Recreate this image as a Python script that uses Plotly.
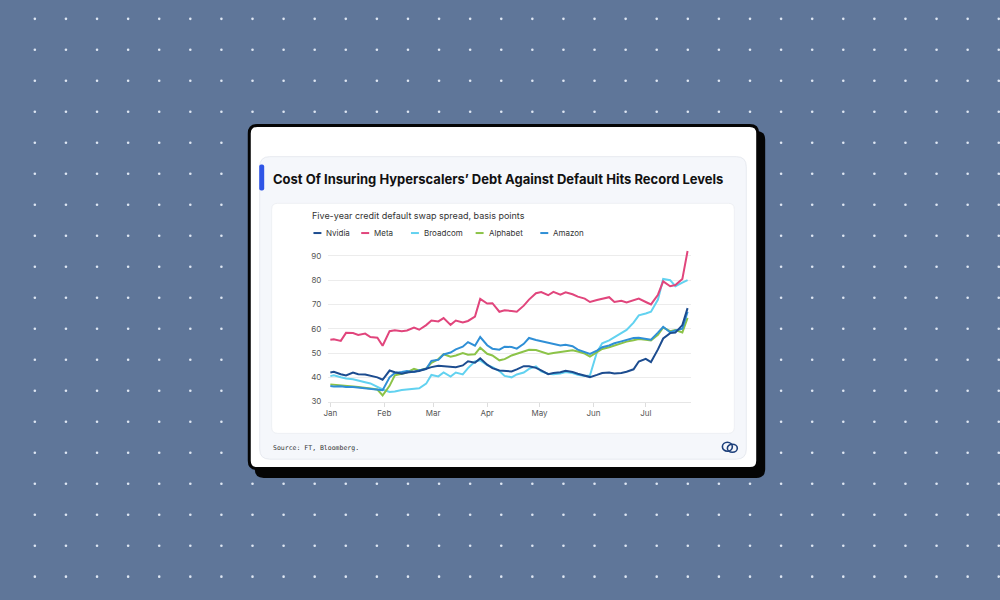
import plotly.graph_objects as go
import pandas as pd

W, H = 1000, 600

# ---------------- data ----------------
day_offsets = [0, 2, 6, 9, 13, 16, 20, 23, 27, 30, 34, 37, 41, 44, 48, 51, 55, 58, 62, 65,
               69, 72, 76, 79, 83, 86, 90, 93, 97, 100, 104, 107, 111, 114, 118, 121, 125, 128,
               132, 135, 139, 142, 146, 149, 153, 156, 160, 163, 167, 170, 174, 177, 181, 184,
               188, 191, 195, 198, 202, 205]
dates = [pd.Timestamp("2025-01-01") + pd.Timedelta(days=d) for d in day_offsets]

nvidia = [42, 42.3, 41.3, 40.8, 42, 41.3, 41.2, 40.6, 40, 39, 42.8, 42.1, 41.5, 42, 42.3, 42.6,
          43.5, 44.2, 44.8, 44.6, 44.4, 44.2, 44.9, 46.6, 46, 47.8, 45.2, 43.8, 42.8, 42.5, 42.4,
          43.3, 44.6, 44.6, 43.9, 42.9, 41.3, 41.8, 42.1, 42.7, 42.2, 41.5, 40.6, 40.1, 41, 41.8,
          42, 41.6, 41.8, 42.3, 43.3, 46.5, 47.6, 46.3, 51.5, 56, 58.2, 58.4, 61.5, 68.5]
meta = [55.5, 55.7, 55, 58.3, 58.2, 57.4, 58, 56.6, 56.3, 53, 59, 59.4, 59, 59.3, 60.5, 59.6,
        61.5, 63.4, 63, 64.4, 61.6, 63.4, 62.6, 63.2, 65, 72.3, 70.4, 70.5, 67, 67.6, 67.3, 67,
        69.5, 72, 74.6, 75.1, 73.8, 75.2, 74, 75, 74.2, 73.2, 72.4, 71, 71.8, 72.2, 73, 71, 71.5,
        70.8, 71.8, 72.4, 71, 70, 74, 79.5, 77.5, 78, 80.5, 92]
broadcom = [40.5, 40.8, 40, 39.5, 39.2, 38.8, 38, 37.5, 36, 35, 34, 34.2, 34.8, 35, 35.2, 35.5,
            37.4, 41, 40.4, 42, 40.3, 42, 41.2, 43.8, 46.5, 47, 45, 44.2, 42.6, 40.6, 40, 41.2,
            42, 43.5, 44.5, 42.5, 41.5, 41.3, 41.6, 42.2, 41.8, 41, 40.6, 40.8, 50.4, 54, 55.2,
            56.5, 57.9, 59.5, 62.5, 65.5, 66.3, 67, 72, 80.5, 80, 77.5, 79, 80]
alphabet = [37.1, 37, 36.8, 36.7, 36.2, 36, 35.5, 35.4, 35, 32.6, 36.5, 40.8, 41.5, 42, 43.5,
            42.8, 43.6, 46, 47.5, 49.5, 48.5, 49, 50, 49.3, 49.5, 52.2, 49.7, 49, 47, 47.5, 49,
            49.7, 50.5, 51.3, 51.2, 50.5, 49.6, 50, 50.4, 50.8, 51.1, 50.6, 49.8, 48.5, 50.4,
            51.7, 52.4, 53.1, 54, 54.7, 55.3, 55.8, 55.5, 55.2, 57.5, 60.5, 59, 59.5, 58.5, 64.5]
amazon = [36.4, 36.2, 36.3, 36, 36, 35.8, 35.5, 35.2, 34.9, 34.7, 40, 41.8, 42.2, 42.6, 42.2,
          42.9, 43.4, 46.8, 47.2, 49.4, 50.2, 51.5, 52.6, 54.5, 53, 56.6, 53.2, 51.8, 51.4, 52.6,
          52.5, 51.8, 53.8, 56.2, 55.4, 54.9, 54.1, 53.6, 53.1, 53.4, 52.8, 51.4, 50.3, 49.6, 51,
          52.4, 53.1, 54, 54.8, 55.5, 56.2, 56.3, 55.7, 55.5, 58.4, 60.8, 58.5, 59.3, 60, 67]

series_names = ["Nvidia", "Meta", "Broadcom", "Alphabet", "Amazon"]
series_values = {"Nvidia": nvidia, "Meta": meta, "Broadcom": broadcom,
                 "Alphabet": alphabet, "Amazon": amazon}
series_colors = {"Nvidia": "#1c4c8f", "Meta": "#e1457c", "Broadcom": "#62d2f0",
                 "Alphabet": "#8cc348", "Amazon": "#2f8fd6"}
draw_order = ["Broadcom", "Alphabet", "Amazon", "Nvidia", "Meta"]

y_ticks = [30, 40, 50, 60, 70, 80, 90]
month_ticks = ["2025-01-01", "2025-02-01", "2025-03-01", "2025-04-01",
               "2025-05-01", "2025-06-01", "2025-07-01"]
month_labels = ["Jan", "Feb", "Mar", "Apr", "May", "Jun", "Jul"]

title_text = "Cost Of Insuring Hyperscalers\u2019 Debt Against Default Hits Record Levels"
subtitle_text = "Five-year credit default swap spread, basis points"
source_text = "Source: FT, Bloomberg."

# ---------------- helpers ----------------
def PX(x):
    return x / W


def PY(y):
    return 1 - y / H


def rr_path(x0, y0, x1, y1, r):
    pts = [
        ("M", [(x0 + r, y0)]), ("L", [(x1 - r, y0)]), ("Q", [(x1, y0), (x1, y0 + r)]),
        ("L", [(x1, y1 - r)]), ("Q", [(x1, y1), (x1 - r, y1)]), ("L", [(x0 + r, y1)]),
        ("Q", [(x0, y1), (x0, y1 - r)]), ("L", [(x0, y0 + r)]), ("Q", [(x0, y0), (x0 + r, y0)]),
    ]
    s = ""
    for cmd, ps in pts:
        s += cmd + " ".join(f"{PX(a):.5f},{PY(b):.5f}" for a, b in ps) + " "
    return s + "Z"


shapes = []
# background dots
for i in range(32):
    for j in range(19):
        cx = 30 + 31.25 * i
        cy = 19 + 31.25 * j
        shapes.append(dict(type="circle", xref="paper", yref="paper",
                           x0=PX(cx - 1.3), x1=PX(cx + 1.3), y0=PY(cy + 1.3), y1=PY(cy - 1.3),
                           fillcolor="#dfe7f3", line=dict(width=0), layer="below"))
# card shadow
shapes.append(dict(type="path", xref="paper", yref="paper", path=rr_path(251, 132, 764, 482, 9),
                   fillcolor="#050505", line=dict(width=0), layer="below"))
# card
shapes.append(dict(type="path", xref="paper", yref="paper", path=rr_path(245.5, 126.5, 756.5, 472.5, 8),
                   fillcolor="#ffffff", line=dict(color="#050505", width=3), layer="below"))
# inner panel
shapes.append(dict(type="path", xref="paper", yref="paper", path=rr_path(256, 158, 745, 463, 10),
                   fillcolor="#f5f7fb", line=dict(color="#e7eaf0", width=1), layer="below"))
# accent bar
shapes.append(dict(type="path", xref="paper", yref="paper", path=rr_path(255.5, 166, 260.5, 192, 2),
                   fillcolor="#2f55e6", line=dict(width=0), layer="below"))
# chart area
shapes.append(dict(type="path", xref="paper", yref="paper", path=rr_path(268, 205, 733, 437, 6),
                   fillcolor="#ffffff", line=dict(color="#eef0f4", width=1), layer="below"))
# logo (small glyph)
shapes.append(dict(type="circle", xref="paper", yref="paper",
                   x0=PX(721), x1=PX(731), y0=PY(455), y1=PY(446),
                   fillcolor="rgba(0,0,0,0)", line=dict(color="#1c3f7a", width=1.6), layer="above"))
shapes.append(dict(type="circle", xref="paper", yref="paper",
                   x0=PX(726), x1=PX(736), y0=PY(456), y1=PY(448),
                   fillcolor="rgba(0,0,0,0)", line=dict(color="#1c3f7a", width=1.6), layer="above"))

# legend (manual)
legend_x = {"Nvidia": 310, "Meta": 358, "Broadcom": 408, "Alphabet": 473, "Amazon": 538}
annotations = []
for name in series_names:
    lx = legend_x[name]
    shapes.append(dict(type="line", xref="paper", yref="paper",
                       x0=PX(lx), x1=PX(lx + 8), y0=PY(235), y1=PY(235),
                       line=dict(color=series_colors[name], width=2), layer="above"))
    annotations.append(dict(x=PX(lx + 11), y=PY(235), xref="paper", yref="paper",
                            text=name, showarrow=False, xanchor="left", yanchor="middle",
                            font=dict(family="Inter, Lato, sans-serif", size=8, color="#333333")))

annotations.append(dict(x=PX(267), y=PY(181), xref="paper", yref="paper", text=f"<b>{title_text}</b>",
                        showarrow=False, xanchor="left", yanchor="middle",
                        font=dict(family="Inter, Roboto, sans-serif", size=13, color="#111111")))
annotations.append(dict(x=PX(307), y=PY(217), xref="paper", yref="paper", text=subtitle_text,
                        showarrow=False, xanchor="left", yanchor="middle",
                        font=dict(family="Inter, Lato, sans-serif", size=9, color="#333333")))
annotations.append(dict(x=PX(267), y=PY(452), xref="paper", yref="paper", text=source_text,
                        showarrow=False, xanchor="left", yanchor="middle",
                        font=dict(family="DejaVu Sans Mono, monospace", size=6.5, color="#333333")))

fig = go.Figure()
for name in draw_order:
    fig.add_trace(go.Scatter(x=dates, y=series_values[name], mode="lines", name=name,
                             line=dict(color=series_colors[name], width=2),
                             showlegend=False, hoverinfo="skip"))

fig.update_layout(
    width=W, height=H,
    margin=dict(l=0, r=0, t=0, b=0),
    paper_bgcolor="#5f7699",
    plot_bgcolor="rgba(0,0,0,0)",
    shapes=shapes,
    annotations=annotations,
    xaxis=dict(domain=[PX(325), PX(689)], range=["2024-12-30 21:00", "2025-07-26 17:00"],
               tickvals=month_ticks, ticktext=month_labels, showgrid=False, zeroline=False,
               showline=True, linecolor="#e6e6e6", linewidth=1,
               ticks="outside", ticklen=4, tickcolor="#dddddd",
               tickfont=dict(family="Inter, Lato, sans-serif", size=8, color="#555555")),
    yaxis=dict(domain=[PY(405), PY(250)], range=[30, 93.27], tickvals=y_ticks,
               showgrid=True, gridcolor="#ececec", gridwidth=1, zeroline=False,
               ticks="", ticklabelstandoff=6,
               tickfont=dict(family="Inter, Lato, sans-serif", size=8, color="#555555")),
)

fig.write_html("out.html")
